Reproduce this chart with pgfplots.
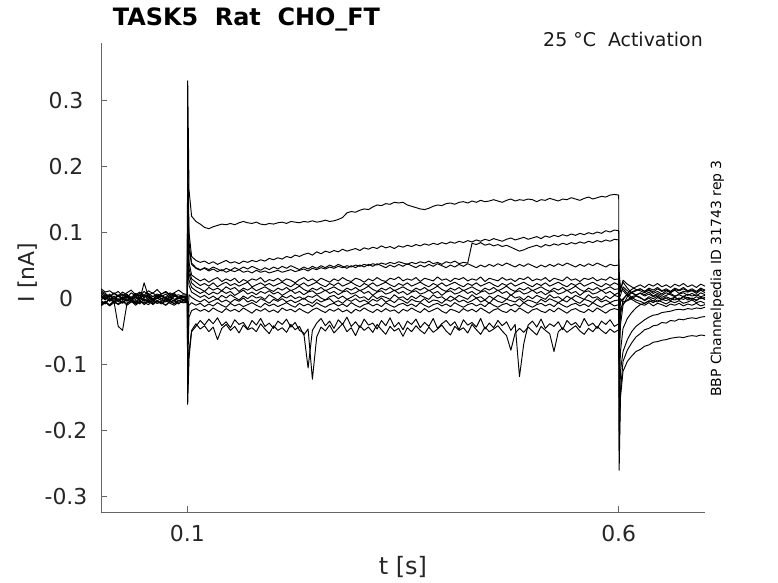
\documentclass[border=0pt]{standalone}
\usepackage{pgfplots}
\usepackage{pgfplotstable}
\pgfplotsset{compat=1.18}
\usepackage{fontspec}
\setmainfont{DejaVu Sans}
% t in ms, currents in pA
\pgfplotstableread{
t c1 c2 c3 c4 c5 c6 c7 c8 c9 c10 c11 c12 c13 c14
0 6 -5 12 2 -8 9 -3 15 3 -9 10 -2 -11 5
5 -1 -8 8 5 -4 2 -7 10 -2 -5 6 3 -6 -1
10 4 0 3 -3 -10 6 1 12 5 -11 2 -4 -9 7
15 0 -6 9 4 -3 -1 -4 7 -1 -6 8 1 -4 0
20 5 -2 4 -2 -9 5 0 11 4 -8 3 -5 -42 6
25 -2 -7 10 3 -5 1 -6 4 0 -3 7 2 -48 -2
30 3 -1 6 -4 -7 7 2 9 6 -10 1 -3 -8 4
35 1 -5 2 1 -2 0 -3 13 -3 -5 9 0 -3 -3
40 6 -3 8 -1 -8 4 -5 6 2 -7 4 -6 -10 3
45 -3 -8 4 5 -4 8 1 10 -1 -2 6 2 -5 1
50 2 0 11 -3 -6 2 -4 5 24 -9 2 -1 -7 6
55 4 -6 5 2 -9 6 -1 12 3 -4 8 -4 -2 -1
60 -1 -2 9 -2 -3 -1 -6 8 -2 -8 3 1 -9 4
65 5 -7 3 4 -7 5 2 14 1 -3 7 -3 -4 0
70 0 -4 7 0 -5 3 -3 7 5 -6 5 0 -8 5
75 3 -1 10 -4 -10 7 -5 11 0 -10 1 2 -3 -2
80 -2 -5 4 3 -4 1 0 6 -3 -4 9 -5 -7 3
85 4 -3 8 -1 -8 6 -4 9 4 -7 4 -2 -10 6
90 1 -8 2 2 -3 2 1 13 2 -2 6 1 -5 1
95 3 -2 6 -3 -6 4 -2 8 -1 -5 3 -1 -6 2
100 2 -3 5 0 -5 3 -2 6 1 -4 4 -1 -6 2
100.5 330 230 200 170 140 120 100 80 60 -40 -70 -100 -160 -140
102 165 100 85 75 55 45 38 28 20 6 -10 -28 -90 -80
105 125 64 54 52 36 30 24 17 10 2 -6 -18 -50 -48
110 117 58 47 46 31 25 18 12 6 -2 -10 -15 -42 -38
115 113 55 44 43 27 20 15 8 2 -5 -7 -19 -33 -46
120 108 57 46 47 30 23 11 11 5 -1 -12 -16 -40 -41
125 106 53 42 44 25 19 17 6 0 -6 -8 -20 -31 -50
130 109 56 45 48 29 24 13 10 4 -3 -11 -14 -38 -43
135 111 52 41 45 32 18 16 7 -1 0 -6 -18 -29 -62
140 113 55 44 42 26 22 12 12 5 -5 -10 -21 -41 -45
145 112 58 40 46 30 25 18 8 1 -2 -13 -15 -35 -39
150 114 54 43 43 27 20 14 11 6 -6 -7 -19 -44 -48
155 112 56 41 47 31 23 17 5 2 -1 -11 -16 -32 -42
160 115 53 44 44 24 19 11 9 -2 -4 -8 -20 -39 -52
165 117 57 40 48 29 22 16 13 4 1 -12 -14 -36 -40
170 115 55 42 45 26 25 13 7 0 -5 -9 -18 -46 -47
175 114 58 39 49 30 18 17 10 5 -2 -6 -22 -33 -44
180 116 56 43 46 28 21 12 6 1 -6 -10 -16 -40 -50
185 113 59 40 43 32 24 15 11 3 0 -13 -19 -30 -38
190 112 57 42 47 25 20 18 8 -1 -3 -7 -15 -42 -46
195 114 61 39 44 29 23 14 12 6 -7 -11 -20 -37 -53
200 113 59 41 48 27 19 11 7 2 -1 -8 -17 -45 -41
205 115 62 43 45 31 22 16 10 -2 -4 -12 -21 -34 -48
210 116 60 40 49 26 25 13 5 4 0 -9 -14 -39 -44
215 114 64 42 46 30 21 17 9 1 -5 -6 -18 -31 -51
220 117 62 44 50 28 18 12 13 5 -2 -10 -16 -43 -39
225 116 66 41 47 24 23 15 8 0 -6 -13 -20 -36 -47
230 115 64 43 44 29 20 19 11 3 -3 -7 -15 -48 -42
235 117 67 45 48 32 24 14 6 -1 1 -11 -19 -52 -55
240 116 69 42 45 27 19 11 10 4 -4 -8 -22 -105 -46
245 118 66 46 49 30 22 16 12 2 -7 -12 -17 -48 -122
250 116 71 44 46 26 25 13 7 6 -1 -6 -14 -37 -58
255 117 68 47 50 31 21 17 9 1 -5 -10 -18 -30 -43
260 119 72 45 47 28 18 12 13 -2 -2 -13 -21 -41 -49
265 117 70 48 51 25 23 15 8 3 0 -9 -16 -34 -40
270 118 73 46 48 30 20 18 11 5 -6 -7 -19 -45 -52
275 120 71 49 52 27 24 14 6 0 -3 -11 -15 -32 -45
280 123 75 47 49 32 19 11 10 4 -7 -8 -20 -39 -38
285 130 72 50 46 28 22 16 12 -1 -1 -12 -17 -28 -50
290 132 74 48 50 26 25 13 7 2 -4 -6 -22 -42 -44
295 131 76 51 47 31 21 17 9 6 0 -10 -16 -35 -56
300 134 73 49 51 29 18 12 13 1 -5 -13 -19 -44 -41
305 136 77 52 48 25 23 15 8 3 -2 -9 -14 -31 -48
310 135 75 50 52 30 20 19 11 -2 -6 -7 -18 -40 -43
315 139 78 53 49 27 24 14 5 5 -1 -11 -21 -37 -51
320 142 76 51 53 32 19 11 10 0 -4 -8 -16 -46 -39
325 141 80 54 50 28 22 16 12 4 1 -12 -20 -33 -47
330 144 77 52 47 26 25 13 7 2 -5 -6 -15 -41 -54
335 143 79 55 51 31 21 17 9 -1 -2 -10 -19 -29 -42
340 146 76 53 48 29 18 12 13 6 -6 -13 -17 -43 -49
345 145 80 56 52 33 23 15 8 1 0 -9 -22 -36 -45
350 146 78 54 49 27 20 18 11 3 -3 -7 -16 -47 -57
355 142 81 52 53 30 24 14 6 -2 -7 -11 -19 -34 -44
360 140 79 55 50 28 19 11 10 4 -1 -8 -14 -39 -50
365 138 82 53 47 32 22 16 12 0 -4 -12 -18 -31 -41
370 136 80 56 51 26 25 13 7 5 -5 -6 -21 -44 -48
375 135 83 54 48 31 21 17 9 2 0 -10 -15 -36 -53
380 137 81 57 52 29 18 12 13 -1 -6 -13 -20 -42 -43
385 140 84 53 49 27 23 15 8 6 -2 -9 -17 -30 -51
390 142 82 55 53 33 20 19 11 1 -3 -7 -14 -45 -46
395 141 85 52 50 28 24 14 5 3 -7 -11 -19 -38 -40
400 144 83 56 47 30 19 11 10 -2 -1 -8 -22 -33 -49
405 145 86 54 51 26 22 16 12 4 -4 -12 -16 -41 -55
410 143 84 57 48 31 25 13 7 0 0 -6 -18 -35 -42
415 146 87 53 52 29 21 17 9 5 -5 -10 -21 -47 -48
420 147 85 55 49 32 18 12 13 2 -2 -13 -15 -32 -44
425 145 88 54 53 27 23 15 8 -1 -6 -9 -19 -40 -52
430 148 86 84 50 30 20 18 11 6 -3 -7 -16 -36 -39
435 146 89 82 47 28 24 14 6 1 1 -11 -20 -43 -47
440 149 87 85 51 33 19 11 10 3 -5 -8 -14 -30 -54
445 147 90 81 48 26 22 16 12 -2 -2 -12 -18 -46 -43
450 148 88 83 52 31 25 13 7 4 -7 -6 -22 -37 -50
455 150 91 80 49 29 21 17 9 0 0 -10 -17 -44 -46
460 148 89 82 53 27 18 12 13 5 -4 -13 -15 -33 -41
465 146 87 79 50 32 23 15 8 2 -6 -9 -19 -41 -49
470 149 90 81 54 28 20 19 11 -1 -1 -7 -21 -35 -56
475 151 92 78 51 30 24 14 5 6 -3 -11 -16 -48 -78
480 148 89 75 48 26 19 11 10 1 -5 -8 -20 -39 -52
485 150 91 72 52 31 22 16 12 3 0 -12 -14 -118 -45
490 149 93 74 49 29 25 13 7 -2 -6 -6 -18 -68 -51
495 151 90 77 53 33 21 17 9 4 -2 -10 -22 -40 -43
500 150 92 79 50 27 18 12 13 0 -4 -13 -17 -34 -49
505 147 94 81 47 30 23 15 8 5 -7 -9 -15 -43 -55
510 150 91 78 51 28 20 18 11 2 -1 -7 -19 -31 -42
515 149 95 82 48 32 24 14 6 -1 -5 -11 -21 -45 -48
520 152 93 80 52 26 19 11 10 6 0 -8 -16 -38 -53
525 150 96 83 49 31 22 16 12 1 -3 -12 -20 -42 -80
530 148 94 81 53 29 25 13 7 3 -6 -6 -14 -35 -50
535 151 97 84 50 27 21 17 9 -2 -2 -10 -18 -47 -44
540 150 95 82 54 33 18 12 13 4 -5 -13 -22 -33 -51
545 153 98 85 51 28 23 15 8 0 1 -9 -17 -40 -46
550 151 96 83 48 30 20 19 11 5 -4 -7 -15 -36 -41
555 149 99 86 52 26 24 14 5 2 -7 -11 -19 -44 -49
560 152 97 84 49 31 19 11 10 -1 -1 -8 -21 -30 -54
565 154 100 87 53 29 22 16 12 6 -3 -12 -16 -41 -45
570 151 98 85 50 32 25 13 7 1 -6 -6 -20 -37 -50
575 153 101 88 54 27 21 17 9 3 0 -10 -14 -45 -42
580 155 99 86 51 30 18 12 13 -2 -5 -13 -18 -34 -48
585 154 103 89 48 28 23 15 8 4 -2 -9 -22 -39 -53
590 157 101 87 52 33 20 18 11 0 -6 -7 -17 -32 -46
595 158 104 90 50 29 24 14 6 5 -3 -11 -15 -42 -51
600 157 103 89 51 30 21 15 9 3 -2 -9 -17 -38 -47
600.5 -260 -230 -200 -150 -100 -80 -60 -40 -20 0 20 30 40 35
602 -150 -140 -110 -80 -40 -25 -15 -5 0 5 10 12 15 12
605 -110 -95 -80 -45 -10 -2 -8 0 -5 18 15 12 25 28
610 -95 -78 -62 -30 3 8 -2 6 -3 12 8 5 16 22
615 -87 -67 -50 -21 9 14 3 10 0 9 2 -1 9 18
620 -80 -58 -42 -14 12 18 5 13 4 6 -2 -5 5 14
625 -77 -53 -37 -9 15 21 9 15 1 8 -4 -8 2 12
630 -72 -47 -32 -7 11 17 6 11 -2 4 -7 -10 -3 9
635 -70 -45 -28 -4 16 22 10 14 3 7 -3 -6 1 13
640 -66 -41 -25 -3 13 19 4 10 0 3 -6 -11 -4 8
645 -65 -40 -24 -5 17 23 8 15 4 6 -2 -7 2 11
650 -63 -36 -21 -1 12 18 5 11 -1 2 -5 -9 -2 7
655 -62 -37 -20 -3 15 21 9 13 3 5 -8 -12 1 12
660 -60 -33 -19 0 11 17 6 10 0 8 -4 -8 -3 9
665 -59 -34 -17 -2 16 22 3 14 2 4 -6 -10 2 13
670 -58 -31 -16 1 13 19 7 12 -2 6 -3 -7 -1 8
675 -59 -32 -17 -1 17 23 9 15 4 3 -7 -11 3 11
680 -57 -30 -15 2 12 18 5 11 1 7 -5 -8 -2 10
685 -56 -29 -16 0 15 21 8 13 -1 4 -2 -10 1 12
690 -57 -30 -14 -2 11 17 4 10 3 6 -6 -7 -3 8
695 -55 -28 -15 1 16 22 9 14 0 3 -4 -11 2 13
700 -56 -27 -13 -1 13 19 6 12 2 5 -7 -9 -1 9
}\traces
\begin{document}
\begin{tikzpicture}
\useasboundingbox (0,0) rectangle (778bp,583bp);
\begin{axis}[
  at={(101bp,71bp)}, anchor=south west,
  scale only axis, width=604bp, height=469bp,
  xmin=0, xmax=700, ymin=-323.2, ymax=387.4,
  axis x line=bottom, axis y line=left,
  axis line style={-, black!60, line width=0.6bp},
  tick align=inside,
  major tick length=6bp,
  every tick/.style={black!60, line width=0.6bp},
  xtick={100,600}, xticklabels={0.1,0.6},
  ytick={-300,-200,-100,0,100,200,300},
  yticklabels={-0.3,-0.2,-0.1,0,0.1,0.2,0.3},
  ticklabel style={font=\fontsize{22}{26}\selectfont, text=black!85},
  yticklabel style={anchor=center, xshift=-35bp},
  xticklabel style={anchor=center, yshift=-22bp},
]
\foreach \c in {c1,c2,c3,c4,c5,c6,c7,c8,c9,c10,c11,c12,c13,c14}{
  \addplot[black, solid, line width=0.95bp, line join=round, mark=none] table[x=t, y=\c] {\traces};
}
\end{axis}
\node[anchor=base, inner sep=0pt, font=\fontsize{24}{28}\selectfont\bfseries, text=black] at (246.5bp,557bp) {TASK5\ \ Rat\ \ CHO\_FT};
\node[anchor=base east, inner sep=0pt, font=\fontsize{19}{22}\selectfont, text=black!90] at (703bp,536bp) {25 °C\ \ Activation};
\node[anchor=base, inner sep=0pt, rotate=90, font=\fontsize{14}{16}\selectfont, text=black] at (721bp,304.5bp) {BBP Channelpedia ID 31743 rep 3};
\node[anchor=center, inner sep=0pt, font=\fontsize{24}{28}\selectfont, text=black!85] at (403bp,16bp) {t [s]};
\node[anchor=center, inner sep=0pt, rotate=90, font=\fontsize{22}{26}\selectfont, text=black!85] at (28bp,310.5bp) {I [nA]};
\end{tikzpicture}
\end{document}
